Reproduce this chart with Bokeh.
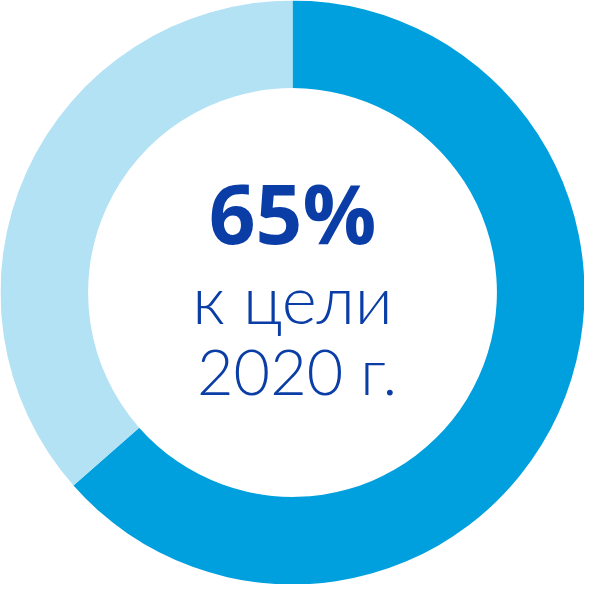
import numpy as np
from bokeh.plotting import figure
from bokeh.models import ColumnDataSource
from bokeh.core.properties import value
from bokeh.embed import file_html
from bokeh.resources import INLINE

# Data
segments = ["Достигнуто", "Осталось"]
shares = [63.5, 36.5]
colors = ["#00a0df", "#b4e2f5"]
big_label = "65%"
sub_lines = ["к цели", " 2020 г."]

fracs = np.array(shares) / sum(shares)
ends_cum = np.cumsum(fracs)
starts_cum = ends_cum - fracs
start_angle = np.pi / 2 - 2 * np.pi * starts_cum
end_angle = np.pi / 2 - 2 * np.pi * ends_cum

src = ColumnDataSource(dict(seg=segments, start=start_angle, end=end_angle, color=colors))

p = figure(width=584, height=584, x_range=(-1, 1), y_range=(-1, 1),
           output_backend="svg", toolbar_location=None, min_border=0)
p.axis.visible = False
p.grid.visible = False
p.outline_line_color = None
p.background_fill_color = "white"

p.annular_wedge(x=0, y=0, inner_radius=0.7, outer_radius=1.0,
                start_angle="start", end_angle="end", direction="clock",
                fill_color="color", line_color=None, source=src)

text_color = "#0a3ea6"
p.text(x=[0], y=[0.274], text=[big_label], text_font=value("Open Sans"),
       text_font_style="bold", text_font_size="82px", text_color=text_color,
       text_align="center", text_baseline="alphabetic")
p.text(x=[0], y=[-0.02], text=[sub_lines[0]], text_font=value("Lato Light"),
       text_font_size="67px", text_color=text_color,
       text_align="center", text_baseline="alphabetic")
p.text(x=[0.045], y=[-0.267], text=[sub_lines[1]], text_font=value("Lato Light"),
       text_font_size="63px", text_color=text_color,
       text_align="center", text_baseline="alphabetic")

open("out.html", "w").write(file_html(p, INLINE))
